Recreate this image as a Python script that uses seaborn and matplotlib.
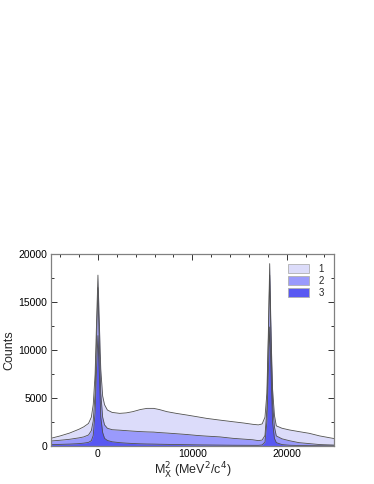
import numpy as np
import pandas as pd
import seaborn as sns
import matplotlib.pyplot as plt
from matplotlib.patches import Patch
from matplotlib.ticker import MultipleLocator

# missing mass squared sample points (MeV^2/c^4)
mx2 = [-5000, -4000, -3000, -2000, -1500, -1000, -700, -500, -300, -150, 0,
       150, 300, 500, 700, 1000, 1500, 2300, 3000, 3700, 4500, 5200, 5900,
       6500, 7300, 8300, 9400, 10500, 11500, 12900, 14300, 15400, 16400,
       17000, 17400, 17700, 17900, 18050, 18200, 18350, 18500, 18700, 18900,
       19500, 20300, 21300, 22400, 23500, 25000]

# counts per selection
counts_1 = [800, 1050, 1350, 1750, 2000, 2350, 3000, 4300, 7500, 12800, 17800,
            12800, 8000, 5200, 4300, 3750, 3500, 3400, 3450, 3580, 3800, 3920, 3920,
            3800, 3580, 3400, 3230, 3050, 2880, 2700, 2530, 2400, 2260,
            2200, 2300, 3000, 5500, 11500, 19000, 11500, 6000, 3200, 2100,
            1850, 1670, 1500, 1320, 1050, 780]
counts_2 = [520, 600, 700, 850, 950, 1150, 1600, 2600, 5500, 11000, 16500,
            10500, 5500, 3000, 2200, 1850, 1700, 1650, 1600, 1550, 1500, 1470, 1450,
            1400, 1350, 1280, 1200, 1100, 1030, 950, 800, 720, 650,
            560, 620, 1100, 3800, 10500, 17800, 10500, 4500, 2000, 1050,
            750, 550, 350, 250, 150, 100]
counts_3 = [150, 170, 200, 250, 300, 380, 550, 1100, 3500, 8000, 11500,
            7500, 3000, 1400, 800, 580, 440, 350, 300, 260, 230, 210, 200,
            185, 170, 155, 140, 120, 110, 95, 80, 75, 70,
            70, 110, 400, 2500, 7500, 12400, 7500, 2500, 800, 350,
            150, 80, 50, 40, 30, 20]

labels = ["1", "2", "3"]
colors = ["#dcdcfa", "#9a9afc", "#5858f2"]

df = pd.DataFrame({"mx2": mx2, "1": counts_1, "2": counts_2, "3": counts_3})

sns.set_theme(style="ticks")
plt.rcParams["font.family"] = ["Liberation Sans", "DejaVu Sans"]

fig = plt.figure(figsize=(3.74, 4.84), dpi=100)
ax = fig.add_axes([0.1357, 0.0785, 0.757, 0.3967])

for lab, col in zip(labels, colors):
    ax.fill_between(df["mx2"], 0, df[lab], color=col, lw=0)
    sns.lineplot(data=df, x="mx2", y=lab, ax=ax, color="#505050", lw=0.6)

ax.set_xlim(-5000, 25000)
ax.set_ylim(0, 20000)
ax.xaxis.set_major_locator(MultipleLocator(10000))
ax.xaxis.set_minor_locator(MultipleLocator(2000))
ax.yaxis.set_major_locator(MultipleLocator(5000))
ax.yaxis.set_minor_locator(MultipleLocator(2500))
ax.tick_params(which="both", direction="in", top=True, right=True,
               labelsize=7.5, color="#333333", labelcolor="black", pad=2.5)
ax.tick_params(which="major", length=4, width=0.7)
ax.tick_params(which="minor", length=2.5, width=0.7)
for sp in ax.spines.values():
    sp.set_color("#808080")
    sp.set_linewidth(0.9)

ax.set_xlabel(r"M$_{\rm X}^2$ (MeV$^2$/c$^4$)", fontsize=9, labelpad=1)
ax.set_ylabel("Counts", fontsize=9, labelpad=2)

handles = [Patch(facecolor=c, edgecolor="#b0b0b0", lw=0.6) for c in colors]
ax.legend(handles, labels, loc="upper right", frameon=False, fontsize=7,
          handlelength=2.2, handleheight=1.0, labelspacing=0.2,
          handletextpad=1.0, borderaxespad=0.6)

fig.savefig("out.png", dpi=100)
